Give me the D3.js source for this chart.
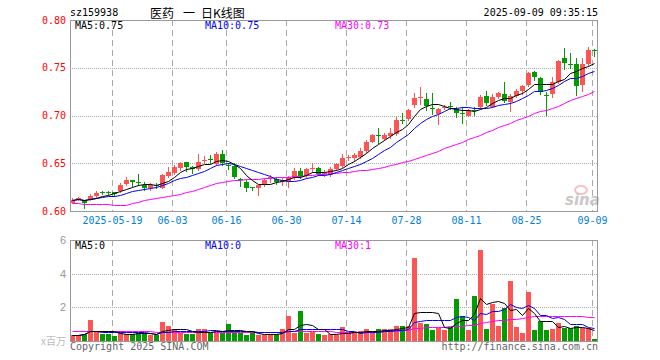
<!DOCTYPE html>
<html>
<head>
<meta charset="utf-8">
<script src="https://cdn.jsdelivr.net/npm/d3@7"></script>
<style>
body { margin: 0; background: #fff; }
text { font-family: "DejaVu Sans Mono", monospace; font-size: 10px; }
</style>
</head>
<body>
<script>
// trading days, 2025-05-08 .. 2025-09-09
var dates = ["05-08","05-09","05-12","05-13","05-14","05-15","05-16","05-19","05-20","05-21",
  "05-22","05-23","05-26","05-27","05-28","05-29","05-30","06-03","06-04","06-05",
  "06-06","06-09","06-10","06-11","06-12","06-13","06-16","06-17","06-18","06-19",
  "06-20","06-23","06-24","06-25","06-26","06-27","06-30","07-01","07-02","07-03",
  "07-04","07-07","07-08","07-09","07-10","07-11","07-14","07-15","07-16","07-17",
  "07-18","07-21","07-22","07-23","07-24","07-25","07-28","07-29","07-30","07-31",
  "08-01","08-04","08-05","08-06","08-07","08-08","08-11","08-12","08-13","08-14",
  "08-15","08-18","08-19","08-20","08-21","08-22","08-25","08-26","08-27","08-28",
  "08-29","09-01","09-02","09-03","09-04","09-05","09-08","09-09"];

var open = [0.6087,0.6130,0.6115,0.6120,0.6157,0.6200,0.6200,0.6195,0.6209,0.6279,
  0.6325,0.6300,0.6272,0.6237,0.6275,0.6244,0.6366,0.6394,0.6447,0.6510,
  0.6457,0.6440,0.6525,0.6540,0.6492,0.6597,0.6480,0.6471,0.6335,0.6307,
  0.6247,0.6244,0.6272,0.6345,0.6340,0.6305,0.6307,0.6349,0.6419,0.6366,
  0.6440,0.6447,0.6385,0.6377,0.6440,0.6475,0.6550,0.6551,0.6569,0.6628,
  0.6726,0.6796,0.6752,0.6785,0.6806,0.6953,0.6960,0.7110,0.7180,0.7169,
  0.7075,0.7016,0.7080,0.7095,0.7070,0.7030,0.7000,0.7062,0.7086,0.7204,
  0.7092,0.7197,0.7225,0.7143,0.7204,0.7257,0.7319,0.7459,0.7389,0.7218,
  0.7222,0.7354,0.7606,0.7542,0.7539,0.7319,0.7539,0.7683];
var high = [0.6140,0.6150,0.6120,0.6178,0.6213,0.6205,0.6205,0.6200,0.6297,0.6353,
  0.6325,0.6387,0.6307,0.6290,0.6297,0.6387,0.6464,0.6482,0.6517,0.6517,
  0.6470,0.6593,0.6576,0.6586,0.6621,0.6639,0.6499,0.6499,0.6342,0.6320,
  0.6255,0.6275,0.6342,0.6377,0.6360,0.6345,0.6370,0.6447,0.6454,0.6454,
  0.6499,0.6464,0.6429,0.6464,0.6506,0.6593,0.6586,0.6604,0.6656,0.6743,
  0.6803,0.6866,0.6813,0.6866,0.6981,0.7030,0.7065,0.7232,0.7302,0.7232,
  0.7232,0.7075,0.7110,0.7145,0.7092,0.7090,0.7065,0.7092,0.7215,0.7254,
  0.7222,0.7250,0.7354,0.7222,0.7274,0.7319,0.7459,0.7469,0.7400,0.7250,
  0.7407,0.7581,0.7703,0.7651,0.7599,0.7599,0.7721,0.7693];
var low = [0.6080,0.6115,0.6030,0.6110,0.6150,0.6180,0.6175,0.6160,0.6202,0.6270,
  0.6262,0.6270,0.6220,0.6220,0.6237,0.6237,0.6360,0.6390,0.6430,0.6420,
  0.6394,0.6430,0.6500,0.6500,0.6482,0.6485,0.6436,0.6342,0.6262,0.6213,
  0.6225,0.6168,0.6262,0.6307,0.6283,0.6272,0.6255,0.6335,0.6342,0.6356,
  0.6405,0.6377,0.6370,0.6366,0.6433,0.6464,0.6534,0.6527,0.6558,0.6614,
  0.6719,0.6709,0.6745,0.6761,0.6796,0.6918,0.6953,0.7092,0.7117,0.7058,
  0.7012,0.6908,0.7065,0.7065,0.6988,0.6925,0.6995,0.7005,0.7075,0.7115,
  0.7085,0.7180,0.7145,0.7047,0.7197,0.7225,0.7309,0.7372,0.7222,0.7005,
  0.7197,0.7344,0.7483,0.7494,0.7215,0.7257,0.7529,0.7623];
var close = [0.6115,0.6140,0.6087,0.6157,0.6192,0.6195,0.6195,0.6180,0.6272,0.6325,
  0.6300,0.6290,0.6237,0.6272,0.6270,0.6377,0.6412,0.6464,0.6499,0.6464,
  0.6436,0.6510,0.6534,0.6534,0.6597,0.6499,0.6471,0.6353,0.6330,0.6237,
  0.6244,0.6272,0.6325,0.6353,0.6300,0.6325,0.6360,0.6419,0.6366,0.6440,
  0.6450,0.6384,0.6395,0.6440,0.6489,0.6551,0.6562,0.6586,0.6628,0.6726,
  0.6796,0.6789,0.6800,0.6813,0.6953,0.6946,0.7058,0.7187,0.7197,0.7099,
  0.7068,0.7065,0.7090,0.7088,0.7023,0.7025,0.7060,0.7055,0.7197,0.7134,
  0.7197,0.7239,0.7155,0.7204,0.7257,0.7309,0.7449,0.7407,0.7250,0.7212,
  0.7354,0.7574,0.7546,0.7536,0.7309,0.7539,0.7686,0.7679];

// MA30 of price
var ma30 = [0.6080,0.6080,0.6078,0.6076,0.6074,0.6072,0.6070,0.6066,0.6064,0.6068,
  0.6080,0.6095,0.6110,0.6122,0.6135,0.6145,0.6158,0.6168,0.6182,0.6198,
  0.6213,0.6228,0.6250,0.6275,0.6298,0.6305,0.6315,0.6322,0.6327,0.6332,
  0.6336,0.6340,0.6344,0.6348,0.6352,0.6356,0.6360,0.6365,0.6370,0.6375,
  0.6380,0.6385,0.6390,0.6395,0.6400,0.6405,0.6412,0.6419,0.6426,0.6432,
  0.6440,0.6450,0.6462,0.6478,0.6495,0.6512,0.6528,0.6545,0.6565,0.6585,
  0.6605,0.6630,0.6655,0.6680,0.6705,0.6725,0.6750,0.6775,0.6800,0.6825,
  0.6850,0.6875,0.6900,0.6925,0.6950,0.6975,0.7000,0.7025,0.7045,0.7060,
  0.7080,0.7100,0.7130,0.7160,0.7185,0.7205,0.7230,0.7260];

// volume, millions
var volume = [0.38,0.38,0.40,1.23,0.58,0.40,0.40,0.28,0.62,0.44,
  0.44,0.50,0.50,0.38,0.38,1.13,0.87,0.74,0.50,0.40,
  0.40,0.70,0.70,0.48,0.58,0.48,1.00,0.62,0.50,0.34,
  0.54,0.38,0.38,0.44,0.44,0.70,1.49,0.48,1.77,0.48,
  0.54,0.40,0.34,0.44,0.34,0.82,0.50,0.50,0.58,0.70,
  0.58,0.70,0.70,0.70,0.87,0.87,0.87,4.95,1.05,0.99,
  0.64,0.78,0.64,0.84,2.49,1.49,0.64,2.66,5.41,0.74,
  2.19,0.87,1.97,3.56,0.82,0.50,2.90,0.64,1.17,0.64,
  0.70,1.09,0.78,0.78,0.87,0.78,0.78,0.10];

var volMa30 = [0.62,0.62,0.62,0.62,0.62,0.62,0.62,0.60,0.60,0.60,
  0.60,0.60,0.58,0.58,0.56,0.56,0.56,0.56,0.56,0.56,
  0.56,0.56,0.56,0.56,0.56,0.56,0.56,0.56,0.56,0.56,
  0.56,0.56,0.56,0.56,0.56,0.56,0.58,0.58,0.60,0.60,
  0.60,0.60,0.58,0.58,0.56,0.56,0.56,0.56,0.54,0.54,
  0.54,0.56,0.58,0.60,0.62,0.64,0.66,0.78,0.80,0.82,
  0.84,0.86,0.86,0.88,0.90,0.92,0.93,0.95,1.09,1.12,
  1.20,1.23,1.26,1.29,1.33,1.38,1.43,1.49,1.49,1.49,
  1.49,1.49,1.49,1.49,1.49,1.49,1.43,1.43];

var priceTicks = [0.60, 0.65, 0.70, 0.75, 0.80];
var volTicks = [2, 4, 6];
var tickDates = ["05-19","06-03","06-16","06-30","07-14","07-28","08-11","08-25","09-09"];

var RED = "#ff5454", GREEN = "#009c00";

var left = 70, right = 597;
var top1 = 20, bot1 = 211;
var top2 = 240, bot2 = 341;

var svg = d3.select("body").append("svg")
  .attr("width", 660)
  .attr("height", 360);

var x = d3.scaleBand().domain(dates).range([left - 1, right]).padding(0);
var y = d3.scaleLinear().domain([0.60, 0.80]).range([bot1, top1]);
var yv = d3.scaleLinear().domain([0, 6]).range([bot2, top2]);

function px(v) { return Math.round(v) + 0.5; }
function cx(d) { return x(d) + 3.5; }

function movingAvg(vals, n) {
  return vals.map(function(v, i) {
    return d3.mean(vals.slice(Math.max(0, i - n + 1), i + 1));
  });
}

var ma5 = movingAvg(close, 5), ma10 = movingAvg(close, 10);
var vma5 = movingAvg(volume, 5), vma10 = movingAvg(volume, 10);

// horizontal dotted grid
svg.selectAll(".hgrid")
  .data(priceTicks.slice(1, 4))
  .enter().append("line")
  .attr("x1", left).attr("x2", right)
  .attr("y1", function(d) { return px(y(d)); })
  .attr("y2", function(d) { return px(y(d)); })
  .attr("stroke", "#aaa")
  .attr("stroke-dasharray", "1,1");

svg.selectAll(".vhgrid")
  .data([2, 4])
  .enter().append("line")
  .attr("x1", left).attr("x2", right)
  .attr("y1", function(d) { return px(yv(d)); })
  .attr("y2", function(d) { return px(yv(d)); })
  .attr("stroke", "#aaa")
  .attr("stroke-dasharray", "1,1");

// vertical dashed lines at the date ticks, both panels
[[top1, bot1], [top2, bot2]].forEach(function(p) {
  svg.selectAll(null)
    .data(tickDates)
    .enter().append("line")
    .attr("x1", function(d) { return x(d) + 1.5; })
    .attr("x2", function(d) { return x(d) + 1.5; })
    .attr("y1", p[0]).attr("y2", p[1])
    .attr("stroke", "#aaa")
    .attr("stroke-dasharray", "6,4");
});

// watermark
var wm = svg.append("g").attr("transform", "translate(565,205)");
wm.append("ellipse").attr("cx", 16).attr("cy", -15).attr("rx", 6).attr("ry", 4)
  .attr("fill", "none").attr("stroke", "#f4c4c4").attr("stroke-width", 2);
wm.append("text").attr("x", 0).attr("y", 0)
  .style("font-family", "'DejaVu Sans', sans-serif")
  .style("font-size", "15px").style("font-style", "italic").style("font-weight", "bold")
  .attr("fill", "#c8c8c8").text("sina");

// candles
var candles = svg.append("g");
dates.forEach(function(d, i) {
  var col = close[i] >= open[i] ? RED : GREEN;
  candles.append("line")
    .attr("x1", cx(d)).attr("x2", cx(d))
    .attr("y1", Math.round(y(high[i]))).attr("y2", Math.round(y(low[i])) + 1)
    .attr("stroke", col);
  var yt = Math.round(y(Math.max(open[i], close[i])));
  var yb = Math.round(y(Math.min(open[i], close[i])));
  candles.append("rect")
    .attr("x", x(d) + 1).attr("width", 5)
    .attr("y", yt).attr("height", Math.max(1, yb - yt))
    .attr("fill", col);
});

// volume bars
svg.selectAll(".vol")
  .data(volume)
  .enter().append("rect")
  .attr("x", function(d, i) { return x(dates[i]) + 1; })
  .attr("width", 5)
  .attr("y", function(d) { return Math.round(yv(d)); })
  .attr("height", function(d) { return bot2 - Math.round(yv(d)); })
  .attr("fill", function(d, i) { return close[i] >= open[i] ? RED : GREEN; });

// MA lines
function drawLine(vals, scale, color) {
  svg.append("path")
    .datum(vals)
    .attr("fill", "none")
    .attr("stroke", color)
    .attr("stroke-width", 1)
    .attr("d", d3.line()
      .x(function(d, i) { return cx(dates[i]); })
      .y(function(d) { return Math.round(scale(d)) + 0.5; }));
}
drawLine(ma30, y, "#ff00ff");
drawLine(ma10, y, "#0000ff");
drawLine(ma5, y, "#000");
drawLine(volMa30, yv, "#ff00ff");
drawLine(vma10, yv, "#0000ff");
drawLine(vma5, yv, "#000");

// frames
[[top1, bot1], [top2, bot2]].forEach(function(p) {
  svg.append("rect")
    .attr("x", left + 0.5).attr("y", p[0] + 0.5)
    .attr("width", right - left).attr("height", p[1] - p[0])
    .attr("fill", "none").attr("stroke", "#999");
});

// price axis
var yAxis = svg.append("g")
  .attr("transform", "translate(" + left + ",0)")
  .call(d3.axisLeft(y).tickValues(priceTicks).tickFormat(d3.format(".2f")).tickSize(0).tickPadding(4));
yAxis.select(".domain").remove();
yAxis.selectAll("text")
  .attr("fill", "#f00")
  .style("font-family", "'DejaVu Sans Mono', monospace")
  .style("font-size", "10px");

// date axis
var xAxis = svg.append("g")
  .attr("transform", "translate(-1.5," + bot1 + ")")
  .call(d3.axisBottom(x).tickValues(tickDates).tickSize(0).tickPadding(6)
    .tickFormat(function(d, i) { return i == 0 ? "2025-" + d : d; }));
xAxis.select(".domain").remove();
xAxis.selectAll("text")
  .attr("fill", "#0080e0")
  .style("font-family", "'DejaVu Sans Mono', monospace")
  .style("font-size", "10px");

// volume axis
var vAxis = svg.append("g")
  .attr("transform", "translate(" + left + ",0)")
  .call(d3.axisLeft(yv).tickValues(volTicks).tickFormat(d3.format("d")).tickSize(0).tickPadding(4));
vAxis.select(".domain").remove();
vAxis.selectAll("text")
  .attr("fill", "#999")
  .style("font-family", "'Liberation Sans', sans-serif")
  .style("font-size", "11px");

svg.append("text").attr("x", 66).attr("y", 345).attr("text-anchor", "end")
  .style("font-family", "'Noto Sans CJK SC', sans-serif").style("font-size", "10px")
  .attr("fill", "#bbb").text("x百万");

// titles
svg.append("text").attr("x", 70).attr("y", 16).attr("fill", "#000").text("sz159938");
svg.append("text").attr("x", 598).attr("y", 16).attr("text-anchor", "end").attr("fill", "#000")
  .text("2025-09-09 09:35:15");
var cjk = [["医药", 150], ["一", 183], ["日K线图", 201]];
svg.selectAll(".ttl")
  .data(cjk)
  .enter().append("text")
  .attr("x", function(d) { return d[1]; })
  .attr("y", 17.5)
  .style("font-family", "'Noto Sans CJK SC', sans-serif")
  .style("font-size", "12px")
  .attr("fill", "#000")
  .text(function(d) { return d[0]; });

// legends
var legendMain = [["MA5:0.75", 75, "#000"], ["MA10:0.75", 205, "#0000ff"], ["MA30:0.73", 335, "#ff00ff"]];
var legendVol = [["MA5:0", 75, "#000"], ["MA10:0", 205, "#0000ff"], ["MA30:1", 335, "#ff00ff"]];
[[legendMain, 29], [legendVol, 249]].forEach(function(p) {
  svg.selectAll(null)
    .data(p[0])
    .enter().append("text")
    .attr("x", function(d) { return d[1]; })
    .attr("y", p[1])
    .attr("fill", function(d) { return d[2]; })
    .text(function(d) { return d[0]; });
});

svg.append("text").attr("x", 70).attr("y", 350).attr("fill", "#666")
  .text("Copyright 2025 SINA.COM");
svg.append("text").attr("x", 598).attr("y", 350).attr("text-anchor", "end").attr("fill", "#666")
  .text("http://finance.sina.com.cn");
</script>
</body>
</html>
